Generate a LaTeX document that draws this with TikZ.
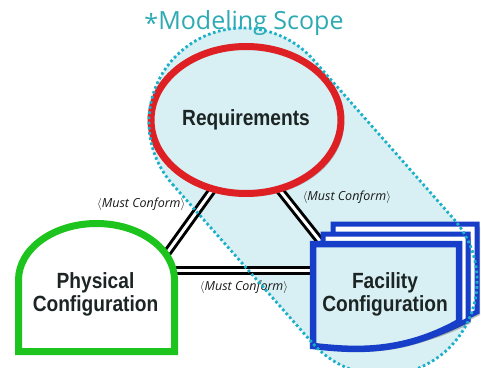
\documentclass[tikz,border=0pt]{standalone}
\usepackage{fontspec}
\usetikzlibrary{shapes.geometric,shadows,backgrounds}

\setmainfont{Liberation Sans}
\newfontfamily\boxfont[FakeStretch=0.87]{Liberation Sans}
\newfontfamily\titlefont{Open Sans}
\newfontfamily\conformfont{Open Sans}

\definecolor{scopefill}{RGB}{216,240,243}
\definecolor{scopedots}{RGB}{28,176,200}
\definecolor{scopetitle}{RGB}{45,170,180}
\definecolor{reqred}{RGB}{222,32,36}
\definecolor{physgreen}{RGB}{30,196,30}
\definecolor{facblue}{RGB}{22,62,200}
\definecolor{boxtext}{RGB}{28,36,36}

\begin{document}
\begin{tikzpicture}[x=1pt,y=1pt,
  boxlabel/.style={font=\boxfont\bfseries\fontsize{22}{23}\selectfont, text=boxtext, align=center},
  conform/.style={font=\conformfont\itshape\fontsize{12.5}{14}\selectfont, text=black!90},
  mustconform/.style={draw=black, line width=3pt, double=white, double distance=3pt},
  boxshadow/.style={drop shadow={shadow xshift=3pt, shadow yshift=-3pt, opacity=0.35, fill=black!70}},
  page/.style={draw=facblue, line width=5pt, fill=white, boxshadow},
  scopeline/.style={draw=scopedots, line width=2.8pt, dash pattern=on 2.6pt off 2.6pt}
]
\useasboundingbox (0,0) rectangle (481,367);

% modeling scope area, a slanted stadium (outline drawn again on top at the end)
\begin{pgfonlayer}{background}
\fill[scopefill, shift={(313,165.5)}, rotate=-48.6] (-106,-94) -- (106,-94) arc[start angle=-90, end angle=90, radius=94] -- (-106,94) arc[start angle=90, end angle=270, radius=94] -- cycle;
\end{pgfonlayer}

\node[anchor=base, font=\titlefont\fontsize{25}{30}\selectfont, text=scopetitle] (title) at (244,337) {\raisebox{-3pt}{*}Modeling Scope};

% requirements
\node[ellipse, draw=reqred, line width=7pt, fill=scopefill, minimum width=159pt, minimum height=147pt, boxshadow, boxlabel] (req) at (246,247) {Requirements};

% physical configuration (dome)
\draw[physgreen, line width=7pt, fill=white, boxshadow] (18.5,15.5) -- (18.5,87) arc[start angle=180, end angle=0, x radius=78, y radius=56.5] -- (174.5,15.5) -- cycle;
\node[boxlabel] (phys) at (95.5,73) {Physical\\Configuration};

% facility configuration: two back pages, then the front page
\draw[page] (333,143) -- (477,143) -- (477,55) .. controls (420,25) and (370,30) .. (333,33) -- cycle;
\draw[page] (323,133) -- (468,133) -- (468,47) .. controls (410,16) and (360,22) .. (323,26) -- cycle;
\draw[page, line width=6.5pt, fill=scopefill] (313,123) -- (459,123) -- (459,45) .. controls (400,12) and (350,17) .. (313,21) -- cycle;
\node[boxlabel] (fac) at (385,73) {Facility\\Configuration};

% connector ends on the shapes
\coordinate (phys top) at (167,114);
\coordinate (phys east) at (172,97);
\coordinate (fac west) at (316,97);
\coordinate (fac corner) at (320,126);

% must conform links
\begin{pgfonlayer}{background}
\draw[mustconform, shorten <=-4pt] (req.244) -- (phys top) node[conform, pos=0.2, left=12pt] {$\langle$Must Conform$\rangle$};
\draw[mustconform, shorten <=-4pt] (req.296) -- (fac corner) node[conform, pos=0.1, right=13pt] {$\langle$Must Conform$\rangle$};
\draw[mustconform] (phys east) -- (fac west) node[conform, midway, below=6pt] {$\langle$Must Conform$\rangle$};
\end{pgfonlayer}

% dotted scope outline on top
\draw[scopeline, shift={(313,165.5)}, rotate=-48.6] (-106,-94) -- (106,-94) arc[start angle=-90, end angle=90, radius=94] -- (-106,94) arc[start angle=90, end angle=270, radius=94] -- cycle;

\end{tikzpicture}
\end{document}
